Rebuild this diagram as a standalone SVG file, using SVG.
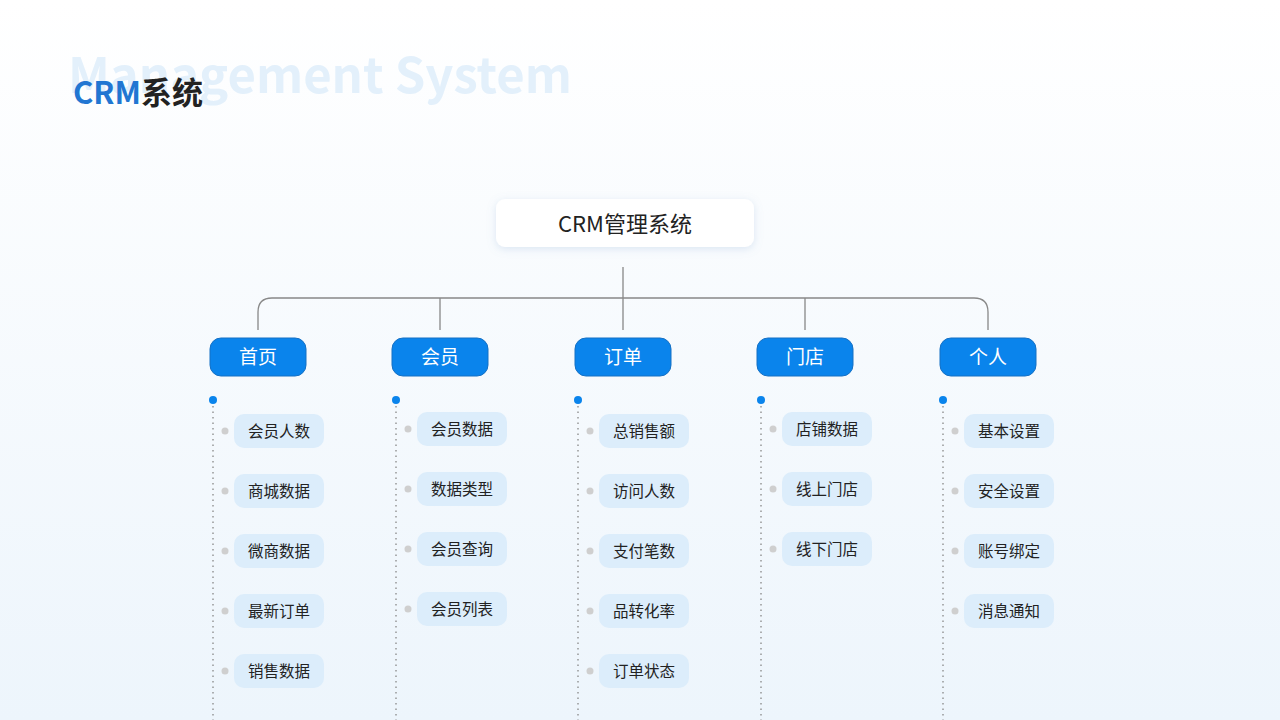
<svg xmlns="http://www.w3.org/2000/svg" width="1280" height="720" viewBox="0 0 1280 720">
<defs>
<linearGradient id="bg" x1="0" y1="0" x2="0" y2="1"><stop offset="0" stop-color="#ffffff"/><stop offset="1" stop-color="#edf5fc"/></linearGradient>
<filter id="sh" x="-20%" y="-40%" width="140%" height="180%"><feDropShadow dx="0" dy="2" stdDeviation="4" flood-color="#7aa3cc" flood-opacity="0.25"/></filter>
</defs>
<style>
text{font-family:"Noto Sans CJK SC","Noto Sans",sans-serif}
.cat rect{fill:#0a84ec;stroke:#1570c4;stroke-width:1}
.cat text{fill:#fff;font-size:19px;text-anchor:middle}
.it rect{fill:#dcedfb}
.it text{fill:#222;font-size:15.5px;text-anchor:middle}
.gd{fill:#cfcfcf}
.ln{stroke:#888;stroke-width:1.3;fill:none}
.dl{stroke:#888;stroke-width:1.3;stroke-dasharray:1.5 4;fill:none}
.bd{fill:#0a84ec}
</style>
<rect width="1280" height="720" fill="url(#bg)"/>
<text x="68" y="93" font-size="49" font-weight="bold" fill="#e3f0fb" font-family="'Open Sans',sans-serif">Management System</text>
<text x="73" y="104" font-size="31" font-weight="bold" fill="#2176d2">CRM<tspan fill="#222">系统</tspan></text>
<g id="root"><rect x="496" y="199" width="258" height="48" rx="9" fill="#fff" filter="url(#sh)"/><text x="625" y="232" font-size="22" text-anchor="middle" fill="#222">CRM管理系统</text></g>
<g id="connectors">
<path class="ln" d="M623 267V298M258 330V312Q258 298 272 298H974Q988 298 988 312V330M440 298V330M623 298V330M805 298V330"/>
<path class="dl" d="M213 406V720M396 406V720M578 406V720M761 406V720M943 406V720"/>
<circle class="bd" cx="213" cy="400" r="4"/><circle class="bd" cx="396" cy="400" r="4"/><circle class="bd" cx="578" cy="400" r="4"/><circle class="bd" cx="761" cy="400" r="4"/><circle class="bd" cx="943" cy="400" r="4"/>
</g>
<g id="n1" class="cat"><rect x="210" y="338" width="96" height="38" rx="11"/><text x="258" y="364">首页</text></g>
<g id="n2" class="cat"><rect x="392" y="338" width="96" height="38" rx="11"/><text x="440" y="364">会员</text></g>
<g id="n3" class="cat"><rect x="575" y="338" width="96" height="38" rx="11"/><text x="623" y="364">订单</text></g>
<g id="n4" class="cat"><rect x="757" y="338" width="96" height="38" rx="11"/><text x="805" y="364">门店</text></g>
<g id="n5" class="cat"><rect x="940" y="338" width="96" height="38" rx="11"/><text x="988" y="364">个人</text></g>
<g id="c1">
<g class="it"><circle class="gd" cx="225" cy="431" r="3.5"/><rect x="234" y="414" width="90" height="34" rx="10"/><text x="279" y="437">会员人数</text></g>
<g class="it"><circle class="gd" cx="225" cy="491" r="3.5"/><rect x="234" y="474" width="90" height="34" rx="10"/><text x="279" y="497">商城数据</text></g>
<g class="it"><circle class="gd" cx="225" cy="551" r="3.5"/><rect x="234" y="534" width="90" height="34" rx="10"/><text x="279" y="557">微商数据</text></g>
<g class="it"><circle class="gd" cx="225" cy="611" r="3.5"/><rect x="234" y="594" width="90" height="34" rx="10"/><text x="279" y="617">最新订单</text></g>
<g class="it"><circle class="gd" cx="225" cy="671" r="3.5"/><rect x="234" y="654" width="90" height="34" rx="10"/><text x="279" y="677">销售数据</text></g>
</g>
<g id="c2">
<g class="it"><circle class="gd" cx="408" cy="429" r="3.5"/><rect x="417" y="412" width="90" height="34" rx="10"/><text x="462" y="435">会员数据</text></g>
<g class="it"><circle class="gd" cx="408" cy="489" r="3.5"/><rect x="417" y="472" width="90" height="34" rx="10"/><text x="462" y="495">数据类型</text></g>
<g class="it"><circle class="gd" cx="408" cy="549" r="3.5"/><rect x="417" y="532" width="90" height="34" rx="10"/><text x="462" y="555">会员查询</text></g>
<g class="it"><circle class="gd" cx="408" cy="609" r="3.5"/><rect x="417" y="592" width="90" height="34" rx="10"/><text x="462" y="615">会员列表</text></g>
</g>
<g id="c3">
<g class="it"><circle class="gd" cx="590" cy="431" r="3.5"/><rect x="599" y="414" width="90" height="34" rx="10"/><text x="644" y="437">总销售额</text></g>
<g class="it"><circle class="gd" cx="590" cy="491" r="3.5"/><rect x="599" y="474" width="90" height="34" rx="10"/><text x="644" y="497">访问人数</text></g>
<g class="it"><circle class="gd" cx="590" cy="551" r="3.5"/><rect x="599" y="534" width="90" height="34" rx="10"/><text x="644" y="557">支付笔数</text></g>
<g class="it"><circle class="gd" cx="590" cy="611" r="3.5"/><rect x="599" y="594" width="90" height="34" rx="10"/><text x="644" y="617">品转化率</text></g>
<g class="it"><circle class="gd" cx="590" cy="671" r="3.5"/><rect x="599" y="654" width="90" height="34" rx="10"/><text x="644" y="677">订单状态</text></g>
</g>
<g id="c4">
<g class="it"><circle class="gd" cx="773" cy="429" r="3.5"/><rect x="782" y="412" width="90" height="34" rx="10"/><text x="827" y="435">店铺数据</text></g>
<g class="it"><circle class="gd" cx="773" cy="489" r="3.5"/><rect x="782" y="472" width="90" height="34" rx="10"/><text x="827" y="495">线上门店</text></g>
<g class="it"><circle class="gd" cx="773" cy="549" r="3.5"/><rect x="782" y="532" width="90" height="34" rx="10"/><text x="827" y="555">线下门店</text></g>
</g>
<g id="c5">
<g class="it"><circle class="gd" cx="955" cy="431" r="3.5"/><rect x="964" y="414" width="90" height="34" rx="10"/><text x="1009" y="437">基本设置</text></g>
<g class="it"><circle class="gd" cx="955" cy="491" r="3.5"/><rect x="964" y="474" width="90" height="34" rx="10"/><text x="1009" y="497">安全设置</text></g>
<g class="it"><circle class="gd" cx="955" cy="551" r="3.5"/><rect x="964" y="534" width="90" height="34" rx="10"/><text x="1009" y="557">账号绑定</text></g>
<g class="it"><circle class="gd" cx="955" cy="611" r="3.5"/><rect x="964" y="594" width="90" height="34" rx="10"/><text x="1009" y="617">消息通知</text></g>
</g>
</svg>
